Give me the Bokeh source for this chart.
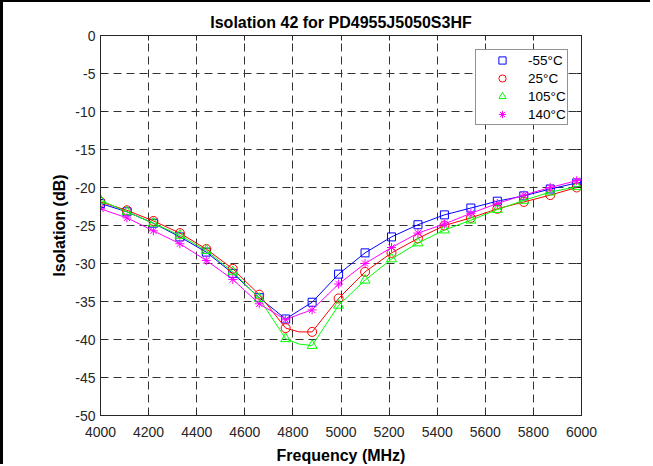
from bokeh.plotting import figure
from bokeh.models import Range1d, FixedTicker, LinearAxis, Legend, LegendItem
from bokeh.embed import file_html
from bokeh.resources import INLINE

# ---- data ----
freq = [4000, 4110, 4220, 4330, 4440, 4550, 4660, 4770, 4880, 4990,
        5100, 5210, 5320, 5430, 5540, 5650, 5760, 5870, 5980]
iso_m55 = [-22.1, -23.2, -24.7, -26.5, -28.5, -31.3, -34.5, -37.3, -35.1, -31.4,
           -28.6, -26.5, -24.9, -23.6, -22.7, -21.8, -21.1, -20.2, -19.4]
iso_25 = [-21.9, -23.0, -24.4, -26.0, -28.1, -30.7, -34.1, -38.5, -39.0, -34.6,
          -31.1, -28.6, -26.7, -25.0, -24.0, -22.8, -21.9, -21.0, -20.0]
iso_105 = [-21.7, -23.2, -24.7, -26.3, -28.3, -31.1, -34.6, -39.9, -40.8, -35.5,
           -32.2, -29.4, -27.3, -25.6, -24.3, -22.9, -21.7, -20.6, -19.9]
iso_140 = [-22.8, -24.0, -25.7, -27.4, -29.6, -32.1, -35.3, -37.4, -36.1, -32.7,
           -30.0, -27.9, -26.0, -24.8, -23.4, -22.1, -21.0, -20.0, -19.1]

# measured traces (denser points where the curve bends and at the band edge)
line_freq = [4000, 4110, 4220, 4330, 4440, 4550, 4660, 4770, 4825, 4880, 4990,
             5100, 5210, 5320, 5430, 5540, 5650, 5760, 5870, 5980, 6000]
line_m55 = [-22.1, -23.2, -24.7, -26.5, -28.5, -31.3, -34.5, -37.3, -36.2, -35.1, -31.4,
            -28.6, -26.5, -24.9, -23.6, -22.7, -21.8, -21.1, -20.2, -19.4, -19.3]
line_25 = [-21.9, -23.0, -24.4, -26.0, -28.1, -30.7, -34.1, -38.5, -39.0, -39.0, -34.6,
           -31.1, -28.6, -26.7, -25.0, -24.0, -22.8, -21.9, -21.0, -20.0, -19.8]
line_105 = [-21.7, -23.2, -24.7, -26.3, -28.3, -31.1, -34.6, -39.9, -40.6, -40.8, -35.5,
            -32.2, -29.4, -27.3, -25.6, -24.3, -22.9, -21.7, -20.6, -19.9, -19.8]
line_140 = [-22.8, -24.0, -25.7, -27.4, -29.6, -32.1, -35.3, -37.4, -36.7, -36.1, -32.7,
            -30.0, -27.9, -26.0, -24.8, -23.4, -22.1, -21.0, -20.0, -19.1, -18.9]

labels = ["-55\u00b0C", "25\u00b0C", "105\u00b0C", "140\u00b0C"]
colors = ["#0000FF", "#FF0000", "#00FF00", "#FF00FF"]
markers = ["square", "circle", "triangle", "asterisk"]
msizes = [8, 9, 10, 9]

x_ticks = [4000, 4200, 4400, 4600, 4800, 5000, 5200, 5400, 5600, 5800, 6000]
y_ticks = [-50, -45, -40, -35, -30, -25, -20, -15, -10, -5, 0]
y_tick_labels = ["-50", "-45", "-40", "-35", "-30", "-25", "-20", "-15", "-10", "-5", "0"]

FONT = "Liberation Sans"
AX = "#262626"

p = figure(width=650, height=464,
           x_range=Range1d(4000, 6000), y_range=Range1d(-50, 0),
           output_backend="svg", toolbar_location=None,
           min_border_left=97, min_border_right=72,
           min_border_top=33, min_border_bottom=51,
           title="Isolation 42 for PD4955J5050S3HF")
p.styles = {"border-left": "3px solid black", "border-top": "2px solid black"}
p.background_fill_color = "white"
p.border_fill_color = "white"
p.outline_line_color = AX

p.title.text_font = FONT
p.title.text_font_size = "16px"
p.title.text_font_style = "bold"
p.title.text_color = "black"
p.title.align = "center"

for ax, ticks in ((p.xaxis[0], x_ticks), (p.yaxis[0], y_ticks)):
    ax.ticker = FixedTicker(ticks=ticks)
    ax.major_tick_in = 5
    ax.major_tick_out = 0
    ax.minor_tick_in = 0
    ax.minor_tick_out = 0
    ax.axis_line_color = AX
    ax.major_tick_line_color = AX
    ax.major_label_text_font = FONT
    ax.major_label_text_font_size = "14px"
    ax.major_label_text_color = AX
    ax.axis_label_text_font = FONT
    ax.axis_label_text_font_size = "16px"
    ax.axis_label_text_font_style = "bold"
    ax.axis_label_text_color = "black"

p.yaxis[0].major_label_overrides = dict(zip(y_ticks, y_tick_labels))

p.xaxis[0].axis_label = "Frequency (MHz)"
p.xaxis[0].major_label_standoff = 11
p.xaxis[0].axis_label_standoff = 7
p.yaxis[0].axis_label = "Isolation (dB)"
p.yaxis[0].major_label_standoff = 5
p.yaxis[0].axis_label_standoff = 4

# box on: tick marks on top and right edges (as minor ticks, so no labels)
for side, ticks in (("above", x_ticks), ("right", y_ticks)):
    a = LinearAxis(ticker=FixedTicker(ticks=[], minor_ticks=ticks),
                   major_tick_in=0, major_tick_out=0,
                   minor_tick_in=5, minor_tick_out=0,
                   axis_line_color=AX, minor_tick_line_color=AX,
                   major_label_standoff=0)
    p.add_layout(a, side)

for g in (p.xgrid[0], p.ygrid[0]):
    g.grid_line_color = "#333333"
    g.grid_line_dash = "8 5"
    g.grid_line_width = 1

series = [iso_m55, iso_25, iso_105, iso_140]
lines = [line_m55, line_25, line_105, line_140]
items = []
for lab, col, mk, ms, ys, ly in zip(labels, colors, markers, msizes, series, lines):
    p.line(line_freq, ly, line_color=col, line_width=1)
    r = p.scatter(freq, ys, marker=mk, size=ms, line_color=col,
                  fill_color=None, line_width=1)
    items.append(LegendItem(label=lab, renderers=[r]))

legend = Legend(items=items, location=(375, 290), margin=0, padding=1,
                glyph_width=50, glyph_height=18, label_height=18, label_standoff=1,
                spacing=0, label_text_font=FONT, label_text_font_size="13.5px",
                label_text_color="black", border_line_color=AX,
                border_line_width=1, background_fill_color="white",
                background_fill_alpha=1)
p.add_layout(legend)

open("out.html", "w").write(file_html(p, INLINE))
